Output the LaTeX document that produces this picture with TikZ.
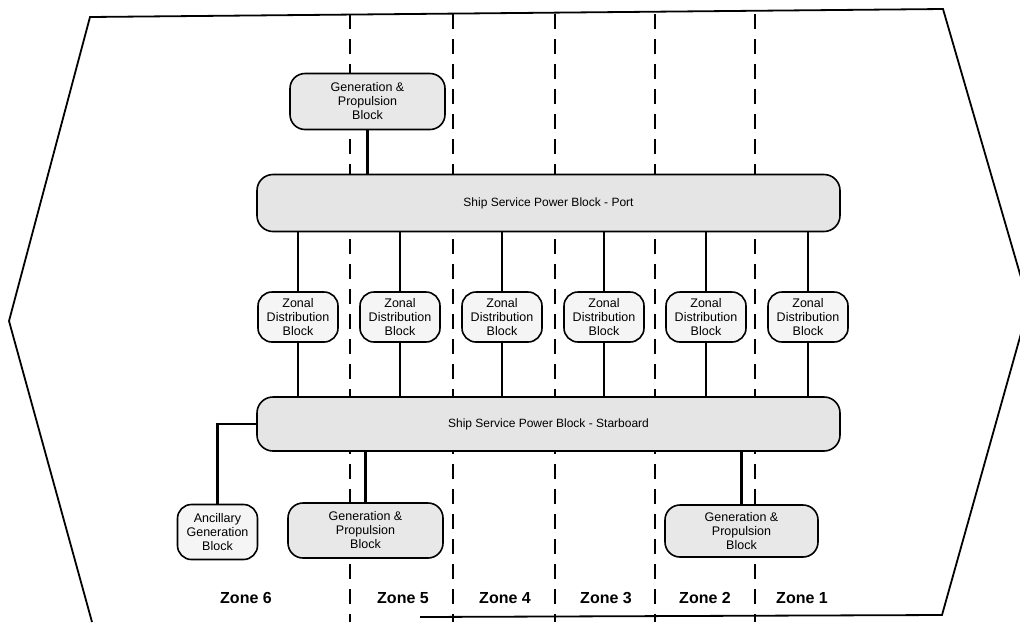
\documentclass[tikz,border=0pt]{standalone}
\usepackage{fontspec}
\setmainfont{Liberation Sans}
\usetikzlibrary{positioning}

\begin{document}
\begin{tikzpicture}[x=1pt, y=1pt,
bus/.style={rectangle, rounded corners=16pt, draw=black, fill=black!10, line width=1.6pt, minimum width=583pt, minimum height=57pt, font=\fontsize{12}{14}\selectfont},
genblock/.style={rectangle, rounded corners=15pt, draw=black, fill=black!9, line width=1.6pt, minimum width=155pt, minimum height=56pt, inner sep=1pt, align=center, font=\fontsize{12.5}{14}\selectfont},
distblock/.style={rectangle, rounded corners=14pt, draw=black, fill=black!4, line width=1.6pt, minimum width=80pt, minimum height=50pt, inner sep=1pt, align=center, font=\fontsize{12.5}{14}\selectfont},
link/.style={line width=2.4pt},
zoneline/.style={line width=1.6pt, dash pattern=on 15pt off 10pt},
hull/.style={line width=1.8pt, line join=miter},
zonename/.style={font=\bfseries\fontsize{16}{18}\selectfont},
]
    \useasboundingbox (0,0) rectangle (1020,-622);
    \clip (0,0) rectangle (1020,-622);

    % Espacement des zones
    \def\espacement{102pt}

    % Coque et cloisons
    \draw[hull] (92,-622) -- (9,-321) -- (90,-17) -- (943,-9) -- (1029,-305) -- (942,-615) -- (420,-617);
    \foreach \xpos in {350,453,555,655,755}
        \draw[zoneline] (\xpos,-14) -- (\xpos,-622);

    % Blocs
    \node[genblock] (gentop) at (367.5,-101.5) {Generation \&\\Propulsion\\Block};
    \node[bus] (port) at (548.5,-203) {Ship Service Power Block - Port};
    \node[bus, minimum height=54pt] (stbd) at (548.5,-424) {Ship Service Power Block - Starboard};

    \node[distblock] (zdist6) at (298,-317) {Zonal\\Distribution\\Block};
    \node[distblock, right of=zdist6, node distance=\espacement] (zdist5) {Zonal\\Distribution\\Block};
    \node[distblock, right of=zdist5, node distance=\espacement] (zdist4) {Zonal\\Distribution\\Block};
    \node[distblock, right of=zdist4, node distance=\espacement] (zdist3) {Zonal\\Distribution\\Block};
    \node[distblock, right of=zdist3, node distance=\espacement] (zdist2) {Zonal\\Distribution\\Block};
    \node[distblock, right of=zdist2, node distance=\espacement] (zdist1) {Zonal\\Distribution\\Block};

    \node[distblock, minimum height=55pt] (ancil) at (217.5,-532) {Ancillary\\Generation\\Block};
    \node[genblock, minimum height=55pt] (genleft) at (365.5,-530.5) {Generation \&\\Propulsion\\Block};
    \node[genblock, minimum width=153pt, minimum height=52pt] (genright) at (741.5,-531) {Generation \&\\Propulsion\\Block};

    % Noms des zones
    \node[zonename] (zone6) at (246,-598) {Zone 6};
    \node[zonename, right of=zone6, node distance=157pt] (zone5) {Zone 5};
    \node[zonename, right of=zone5, node distance=102pt] (zone4) {Zone 4};
    \node[zonename, right of=zone4, node distance=101pt] (zone3) {Zone 3};
    \node[zonename, right of=zone3, node distance=99pt] (zone2) {Zone 2};
    \node[zonename, right of=zone2, node distance=97pt] (zone1) {Zone 1};

    % Liaisons
    \draw[link] (gentop.south) -- (gentop.south |- port.north);
    \foreach \z in {1,...,6} {
        \draw[link] (zdist\z.north) -- (zdist\z.north |- port.south);
        \draw[link] (zdist\z.south) -- (zdist\z.south |- stbd.north);
    }
    \draw[link] (stbd.west) -| (ancil.north);
    \draw[link] (genleft.north) -- (genleft.north |- stbd.south);
    \draw[link] (genright.north) -- (genright.north |- stbd.south);
\end{tikzpicture}
\end{document}
